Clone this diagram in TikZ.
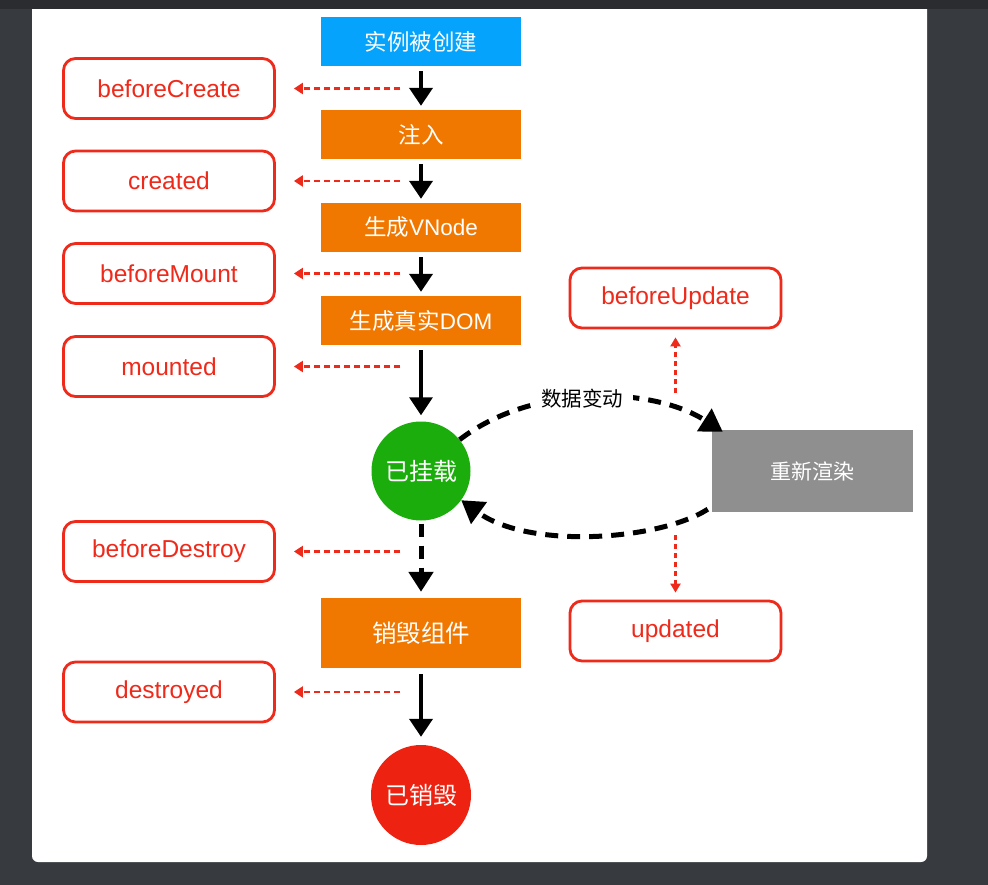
\documentclass[tikz,border=0pt]{standalone}
\usepackage{fontspec}
\setmainfont{Liberation Sans}
\newfontfamily\cjk{Noto Sans CJK SC}
\usetikzlibrary{arrows.meta}
\definecolor{bgdark}{HTML}{373B3F}
\definecolor{topbar}{HTML}{2A2C30}
\definecolor{vblue}{HTML}{05A3FC}
\definecolor{vorange}{HTML}{F07800}
\definecolor{vgreen}{HTML}{1BAD0B}
\definecolor{vred}{HTML}{EE2211}
\definecolor{hookred}{HTML}{EE2A1B}
\definecolor{vgray}{HTML}{8F8F8F}
\begin{document}
\begin{tikzpicture}[x=1pt,y=-1pt,
 stagebox/.style={minimum width=200pt,minimum height=49pt,inner sep=0pt,text=white,
   font=\cjk\fontsize{22.5}{26}\selectfont},
 hookbox/.style={draw=hookred,line width=2.8pt,rounded corners=12pt,fill=white,
   minimum width=211pt,minimum height=60pt,inner sep=0pt,text=hookred,
   font=\fontsize{24.5}{28}\selectfont},
 statecircle/.style={circle,minimum size=99pt,inner sep=0pt,text=white,
   font=\cjk\fontsize{24}{28}\selectfont},
 flowarrow/.style={line width=4pt,-{Triangle[width=23pt,length=18pt]}},
 flowdash/.style={line width=5pt,dash pattern=on 13pt off 9pt,-{Triangle[width=24pt,length=20pt]}},
 hookarrow/.style={draw=hookred,line width=2.5pt,dash pattern=on 6pt off 4pt,
   -{Triangle[width=11pt,length=9pt]}},
 hookdot/.style={draw=hookred,line width=2.2pt,dash pattern=on 5pt off 4pt,
   -{Triangle[width=10pt,length=9pt]}},
]
% background
\fill[bgdark] (0,0) rectangle (988,885);
\fill[white,rounded corners=6pt] (32,0) rectangle (927,862);
\fill[topbar] (0,0) rectangle (988,9);
\useasboundingbox (0,0) rectangle (988,885);

% main stages
\node[stagebox,fill=vblue] (c1) at (421,41.5) {实例被创建};
\node[stagebox,fill=vorange] (c2) at (421,134.5) {注入};
\node[stagebox,fill=vorange] (c3) at (421,227.5) {{\cjk 生成}{\fontspec{Liberation Sans}VNode}};
\node[stagebox,fill=vorange] (c4) at (421,320.5) {{\cjk 生成真实}{\fontspec{Liberation Sans}DOM}};
\node[statecircle,fill=vgreen] (m) at (421,471) {已挂载};
\node[stagebox,fill=vorange,minimum height=70pt,font=\cjk\fontsize{24.5}{28}\selectfont] (d) at (421,633) {销毁组件};
\node[statecircle,fill=vred,minimum size=100pt] (x) at (421,795) {已销毁};
\node[minimum width=201pt,minimum height=82pt,inner sep=0pt,fill=vgray,text=white,
  font=\cjk\fontsize{21}{24}\selectfont] (g) at (812.5,471) {重新渲染};

% hooks
\node[hookbox] (h1) at (169,88.5) {beforeCreate};
\node[hookbox] (h2) at (169,181) {created};
\node[hookbox] (h3) at (169,273.5) {beforeMount};
\node[hookbox] (h4) at (169,366.5) {mounted};
\node[hookbox] (h5) at (169,551.5) {beforeDestroy};
\node[hookbox] (h6) at (169,692) {destroyed};
\node[hookbox] (bu) at (675.5,298) {beforeUpdate};
\node[hookbox] (ud) at (675.5,631) {updated};

% main flow arrows
\draw[flowarrow,shorten <=5pt,shorten >=4pt] (c1.south) -- (c2.north);
\draw[flowarrow,shorten <=5pt,shorten >=4pt] (c2.south) -- (c3.north);
\draw[flowarrow,shorten <=5pt,shorten >=4pt] (c3.south) -- (c4.north);
\draw[flowarrow,line width=3.2pt,shorten <=5pt,shorten >=6pt] (c4.south) -- (m.north);
\draw[flowdash,shorten <=3pt,shorten >=6pt] (m.south) -- (d.north);
\draw[flowarrow,shorten <=6pt,shorten >=8pt] (d.south) -- (x.north);

% hook arrows
\coordinate (s1) at (400,88.5);
\coordinate (s2) at (400,181);
\coordinate (s3) at (400,273.5);
\coordinate (s4) at (400,366.5);
\coordinate (s5) at (400,551.5);
\coordinate (s6) at (400,692);
\draw[hookarrow,shorten >=18pt] (s1) -- (h1.east);
\draw[hookarrow,shorten >=18pt] (s2) -- (h2.east);
\draw[hookarrow,shorten >=18pt] (s3) -- (h3.east);
\draw[hookarrow,shorten >=18pt] (s4) -- (h4.east);
\draw[hookarrow,shorten >=18pt] (s5) -- (h5.east);
\draw[hookarrow,shorten >=18pt] (s6) -- (h6.east);
\coordinate (su) at (675.5,393);
\coordinate (sd) at (675.5,535);
\draw[hookdot,shorten >=8pt] (su) -- (bu.south);
\draw[hookdot,shorten >=7pt] (sd) -- (ud.north);

% update loop
\draw[flowdash,line width=5pt,-{Triangle[width=26pt,length=22pt]}]
  (m.39) .. controls (530,385) and (650,385) .. ([xshift=11pt,yshift=-2pt]g.north west);
\node[fill=white,inner xsep=10pt,inner ysep=4pt,font=\cjk\fontsize{20.5}{24}\selectfont] (lbl) at (582,399) {数据变动};
\draw[flowdash,line width=5pt,-{Triangle[width=26pt,length=22pt]}]
  ([xshift=-4pt,yshift=3pt]g.south west) .. controls (660,540) and (530,550) .. (m.-36);
\end{tikzpicture}
\end{document}
